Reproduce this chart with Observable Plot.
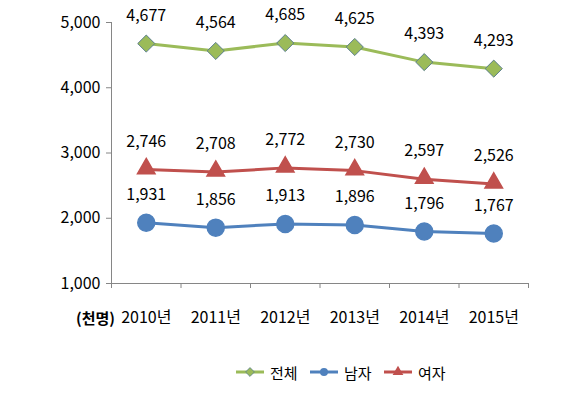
<!DOCTYPE html>
<html>
<head>
<meta charset="utf-8">
<script src="https://cdn.jsdelivr.net/npm/d3@7"></script>
<script src="https://cdn.jsdelivr.net/npm/@observablehq/plot@0.6"></script>
<style>
  html, body { margin: 0; padding: 0; background: #fff; }
  #wrap { position: relative; width: 580px; height: 396px; overflow: hidden; }
  #legend { position: absolute; left: 0; top: 356px; width: 580px; height: 32px;
    font-family: "Noto Sans CJK KR", sans-serif; font-size: 15px; color: #000; }
  .item { position: absolute; top: 0; display: flex; align-items: center; height: 32px; }
  .item svg { margin-right: 6px; }
</style>
</head>
<body>
<div id="wrap">
  <div id="chart"></div>
  <div id="legend"></div>
</div>
<script>
const years = [2010, 2011, 2012, 2013, 2014, 2015];
const total = [4677, 4564, 4685, 4625, 4393, 4293];
const male = [1931, 1856, 1913, 1896, 1796, 1767];
const female = [2746, 2708, 2772, 2730, 2597, 2526];
const seriesNames = ["전체", "남자", "여자"];
const seriesColors = ["#9BBB59", "#4F81BD", "#C0504D"];
const yTicks = [1000, 2000, 3000, 4000, 5000];
const unitLabel = "(천명)";

const seriesValues = [total, male, female];
const rows = [];
seriesNames.forEach((s, i) => years.forEach((y, j) => rows.push({series: s, year: y, value: seriesValues[i][j]})));
const boundaries = [years[0] - 0.5, ...years.map(y => y + 0.5)];

const font = "'Liberation Sans Narrow', 'Noto Sans CJK KR', sans-serif";
const axisColor = "#868686";
const ofSeries = s => rows.filter(r => r.series === s);

const chart = Plot.plot({
  width: 580,
  height: 350,
  marginLeft: 111,
  marginRight: 52,
  marginTop: 22,
  marginBottom: 67,
  style: {fontFamily: font, fontSize: "16px", color: "#000", background: "#fff"},
  x: {type: "linear", domain: [boundaries[0], boundaries[boundaries.length - 1]]},
  y: {domain: [yTicks[0], yTicks[yTicks.length - 1]]},
  color: {domain: seriesNames, range: seriesColors},
  marks: [
    Plot.axisY(yTicks, {tickFormat: d3.format(","), tickSize: 5, tickPadding: 6, stroke: axisColor, label: null}),
    Plot.axisX(boundaries, {tickSize: 5, tickFormat: () => "", stroke: axisColor, label: null}),
    Plot.axisX(years, {tickSize: 0, tickPadding: 28, tickFormat: d => d + "년", label: null}),
    Plot.ruleX([boundaries[0]], {stroke: axisColor}),
    Plot.ruleY([yTicks[0]], {stroke: axisColor}),
    Plot.text([unitLabel], {frameAnchor: "bottom-left", dx: -16, dy: 36, lineAnchor: "middle", textAnchor: "middle", fontWeight: "bold", fontFamily: "'Noto Sans CJK KR', sans-serif", fontSize: 15}),
    Plot.line(rows, {x: "year", y: "value", z: "series", stroke: "series", strokeWidth: 3}),
    Plot.dot(ofSeries("전체"), {x: "year", y: "value", symbol: "diamond2", r: 7.7, fill: seriesColors[0], stroke: "#5B7F8C", strokeWidth: 1}),
    Plot.dot(ofSeries("남자"), {x: "year", y: "value", symbol: "circle", r: 8.5, fill: seriesColors[1], stroke: seriesColors[1]}),
    Plot.dot(ofSeries("여자"), {x: "year", y: "value", symbol: "triangle", r: 6.5, fill: seriesColors[2], stroke: seriesColors[2], dy: -1}),
    Plot.text(rows, {x: "year", y: "value", text: d => d3.format(",")(d.value), dy: -28, lineAnchor: "middle", fontSize: 16})
  ]
});
document.getElementById("chart").appendChild(chart);

// Legend
const legend = document.getElementById("legend");
const lefts = [236, 310, 384];
const legendSymbols = ["diamond2", "circle", "triangle"];
seriesNames.forEach((s, i) => {
  const item = document.createElement("div");
  item.className = "item";
  item.style.left = lefts[i] + "px";
  const svg = d3.create("svg").attr("width", 28).attr("height", 14);
  svg.append("line").attr("x1", 0).attr("x2", 28).attr("y1", 7).attr("y2", 7)
    .attr("stroke", seriesColors[i]).attr("stroke-width", 3);
  const sym = {diamond2: d3.symbolDiamond2, circle: d3.symbolCircle, triangle: d3.symbolTriangle}[legendSymbols[i]];
  svg.append("path").attr("d", d3.symbol(sym, 50)()).attr("transform", "translate(14,7)")
    .attr("fill", seriesColors[i]).attr("stroke", i === 0 ? "#5B7F8C" : seriesColors[i]).attr("stroke-width", i === 0 ? 0.8 : 0);
  item.appendChild(svg.node());
  const t = document.createElement("span");
  t.textContent = s;
  item.appendChild(t);
  legend.appendChild(item);
});
</script>
</body>
</html>
